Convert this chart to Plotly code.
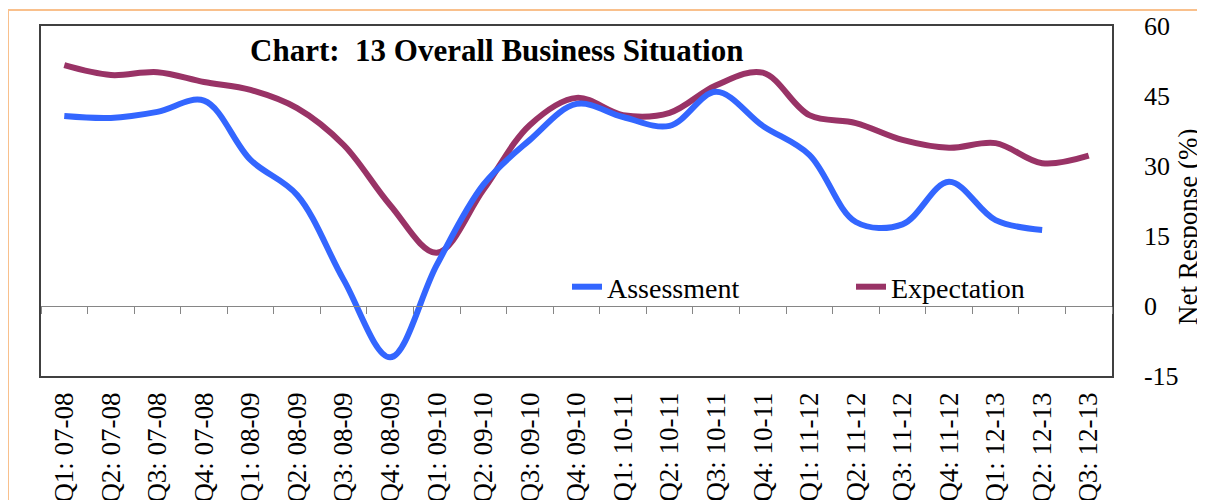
import plotly.graph_objects as go

categories = ["Q1: 07-08", "Q2: 07-08", "Q3: 07-08", "Q4: 07-08",
              "Q1: 08-09", "Q2: 08-09", "Q3: 08-09", "Q4: 08-09",
              "Q1: 09-10", "Q2: 09-10", "Q3: 09-10", "Q4: 09-10",
              "Q1: 10-11", "Q2: 10-11", "Q3: 10-11", "Q4: 10-11",
              "Q1: 11-12", "Q2: 11-12", "Q3: 11-12", "Q4: 11-12",
              "Q1: 12-13", "Q2: 12-13", "Q3: 12-13"]

assessment = [40.7, 40.3, 41.6, 44.0, 31.3, 23.8, 5.6, -11.0, 8.8, 26.0, 35.6, 43.3,
              40.5, 38.6, 45.9, 38.6, 32.4, 18.0, 17.5, 26.6, 18.4, 16.3, None]
expectation = [51.6, 49.5, 50.1, 48.0, 46.3, 42.4, 34.5, 21.6, 11.4, 24.9, 38.8, 44.6,
               40.9, 41.4, 47.3, 50.0, 40.9, 39.2, 35.6, 33.9, 34.9, 30.6, 32.2]

y_ticks = [-15, 0, 15, 30, 45, 60]
y_tick_text = ["-15", "0", "15", "30", "45", "60"]

FONT = "Liberation Serif, Times New Roman, serif"
OFF = 8  # page body margin offset
W, H = 1205 - OFF, 500 - OFF
L, T = 41 - OFF, 26 - OFF
R = W - (1112 - OFF)
B = H - (376 - OFF)
pw, ph = W - L - R, H - T - B

def px_x(x):
    return (x - OFF - L) / pw

def px_y(y):
    return (H - B - (y - OFF)) / ph

fig = go.Figure()
fig.add_trace(go.Scatter(x=categories, y=assessment, name="Assessment", mode="lines",
                         line=dict(color="#3366FF", width=6, shape="spline", smoothing=1.0),
                         xaxis="x2", yaxis="y", connectgaps=False))
fig.add_trace(go.Scatter(x=categories, y=expectation, name="Expectation", mode="lines",
                         line=dict(color="#993366", width=6, shape="spline", smoothing=1.0),
                         xaxis="x", yaxis="y"))

n = len(categories)
fig.update_layout(
    width=W, height=H,
    margin=dict(l=L, r=R, t=T, b=B),
    paper_bgcolor="white", plot_bgcolor="white",
    font=dict(family=FONT, color="black"),
    showlegend=True,
    legend=dict(orientation="h", x=px_x(567), y=px_y(287), xanchor="left", yanchor="middle",
                font=dict(family=FONT, size=28, color="black"),
                entrywidth=239, entrywidthmode="pixels",
                bgcolor="rgba(0,0,0,0)", itemwidth=30),
    xaxis=dict(type="category", categoryorder="array", categoryarray=categories,
               range=[-0.5, n - 0.5], showgrid=False, zeroline=False,
               showline=True, linecolor="#404040", linewidth=1.5, mirror=True,
               ticks="", tickangle=-90, tickfont=dict(family=FONT, size=27, color="black"),
               ticklabelstandoff=4, automargin=False),
    xaxis2=dict(type="category", categoryorder="array", categoryarray=categories,
                range=[-0.5, n - 0.5], overlaying="x", anchor="free", position=px_y(306),
                showgrid=False, zeroline=False, showline=True, linecolor="#868686", linewidth=1,
                ticks="outside", tickson="boundaries", ticklen=7, tickcolor="#868686",
                showticklabels=False, automargin=False),
    yaxis=dict(side="right", range=[-15, 60], tickvals=y_ticks, ticktext=y_tick_text,
               showgrid=False, zeroline=False,
               showline=True, linecolor="#404040", linewidth=1.5, mirror=True,
               ticks="", ticklabelstandoff=25,
               tickfont=dict(family=FONT, size=26, color="black"), automargin=False),
    annotations=[
        dict(text="<b>Chart:  13 Overall Business Situation</b>", xref="paper", yref="paper",
             x=px_x(496), y=px_y(50), xanchor="center", yanchor="middle", showarrow=False,
             font=dict(family=FONT, size=31, color="black")),
        dict(text="Net Response (%)", xref="paper", yref="paper", textangle=-90,
             x=px_x(1188), y=px_y(227), xanchor="center", yanchor="middle", showarrow=False,
             font=dict(family=FONT, size=27, color="black")),
    ],
    shapes=[
        dict(type="rect", xref="paper", yref="paper", x0=px_x(8), y0=-1.0, x1=1.5, y1=px_y(10),
             line=dict(color="#F9C08C", width=2), fillcolor="rgba(0,0,0,0)", layer="below"),
    ],
)

fig.write_html("out.html")
